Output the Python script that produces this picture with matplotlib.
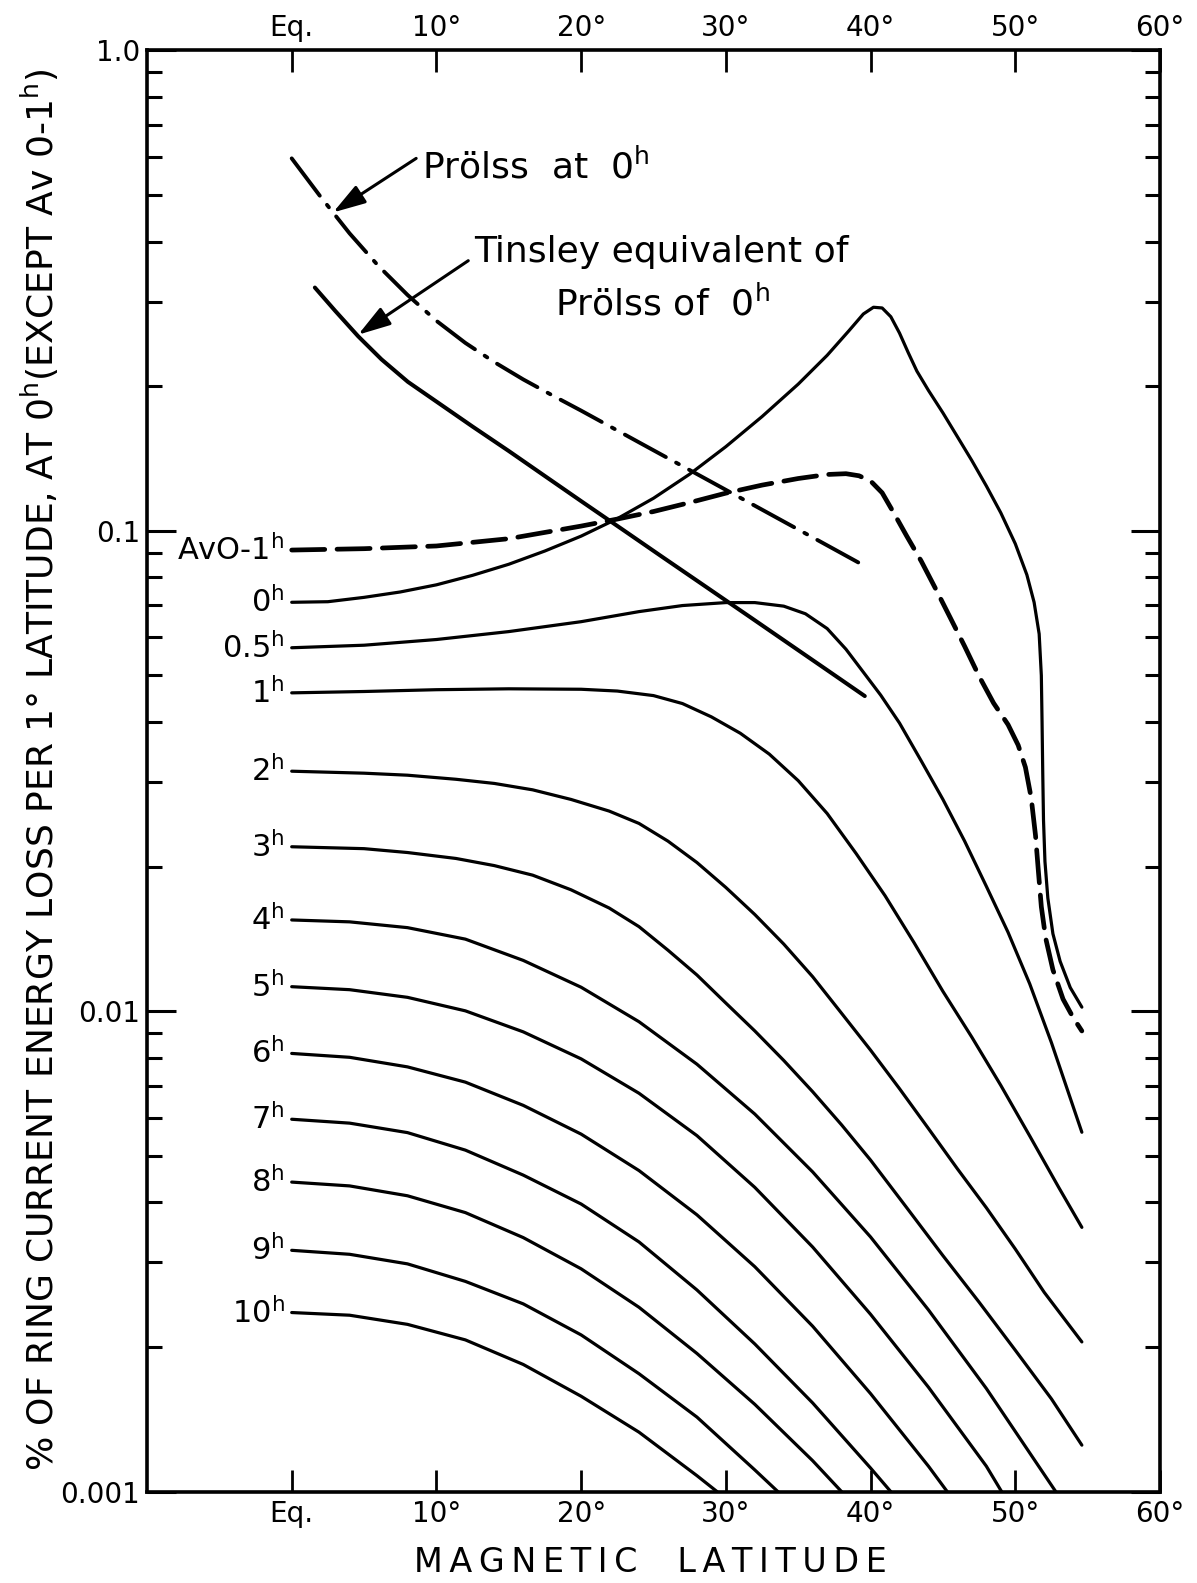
import matplotlib
matplotlib.use('Agg')
import matplotlib.pyplot as plt

plt.rcParams['font.family'] = ['DejaVu Sans']
plt.rcParams['mathtext.default'] = 'regular'

# ---------------- data (magnetic latitude in degrees, % energy loss) ----------------
lat_0h = [0, 2.5, 5, 7.5, 10, 12.5, 15, 17.5, 20, 22.5, 25, 27.5, 30, 32.5, 35, 37, 38.5, 39.5, 40.2,
          40.8, 41.4, 42.0, 42.6, 43.2, 44.0, 45.0, 46.0, 47.0, 48.0, 49.0, 50.0, 50.8, 51.3, 51.65,
          51.8, 51.85, 51.9, 51.95, 52.05, 52.25, 52.6, 53.1, 53.8, 54.6]
val_0h = [0.071, 0.0712, 0.0727, 0.0746, 0.0772, 0.0808, 0.0852, 0.0908, 0.0975, 0.1060, 0.1169, 0.1312,
          0.1497, 0.1729, 0.2020, 0.2319, 0.2608, 0.2827, 0.292, 0.291, 0.279, 0.258, 0.235, 0.215, 0.196,
          0.176, 0.157, 0.140, 0.124, 0.109, 0.094, 0.081, 0.071, 0.061, 0.050, 0.040, 0.031, 0.025,
          0.0205, 0.0172, 0.0145, 0.0127, 0.0112, 0.0102]

lat_av = [0, 5, 10, 15, 20, 22.5, 25, 27.5, 30, 32.5, 35, 37, 38.3, 39.2, 40.0, 40.8, 41.6, 42.5,
          43.5, 44.5, 45.5, 46.5, 47.5, 48.5, 49.5, 50.2, 50.7, 51.1, 51.4, 51.6, 51.8, 52.1, 52.6,
          53.3, 54.0, 54.6]
val_av = [0.0912, 0.0918, 0.093, 0.0963, 0.1023, 0.1058, 0.1097, 0.1145, 0.1198, 0.1245, 0.1285,
          0.131, 0.1315, 0.1302, 0.127, 0.120, 0.109, 0.0975, 0.0865, 0.0757, 0.066, 0.0575, 0.0498,
          0.0438, 0.0395, 0.0358, 0.0322, 0.0278, 0.0232, 0.0195, 0.0165, 0.0142, 0.0122, 0.0106,
          0.0097, 0.0091]

lat_05h = [0, 5, 10, 15, 20, 24, 27, 30, 32, 34, 35.5, 37, 38.3, 39.5, 40.7, 42, 43.5, 45, 46.5, 48,
           49.5, 51, 52.5, 54.6]
val_05h = [0.0571, 0.0578, 0.0594, 0.0617, 0.0647, 0.0679, 0.0699, 0.0709, 0.0709, 0.0697, 0.0672,
           0.0626, 0.0567, 0.0508, 0.0455, 0.0398, 0.0332, 0.0276, 0.0226, 0.0182, 0.0146, 0.0114,
           0.0086, 0.0056]

lat_1h = [0, 5, 10, 15, 20, 22.5, 25, 27, 29, 31, 33, 35, 37, 39, 41, 43, 45, 47, 49, 51, 53, 54.6]
val_1h = [0.046, 0.0463, 0.0467, 0.0469, 0.0468, 0.0464, 0.0454, 0.0437, 0.041, 0.0379, 0.0343, 0.0302,
          0.0258, 0.0213, 0.0174, 0.0139, 0.011, 0.00883, 0.00701, 0.0055, 0.0043, 0.00355]

lat_2h = [0, 5, 8, 11.35, 14, 16.65, 19.3, 21.94, 24, 26, 28, 30, 32, 34, 36, 38, 40, 42, 44, 46, 48,
          50, 52, 54.6]
val_2h = [0.0316, 0.0313, 0.031, 0.0304, 0.0298, 0.0289, 0.0276, 0.0261, 0.0246, 0.0226, 0.0204,
          0.0181, 0.0159, 0.0138, 0.0118, 0.0099, 0.0083, 0.0069, 0.0057, 0.0047, 0.0039, 0.0032,
          0.0026, 0.00205]

lat_3h = [0, 5, 8, 11.35, 14, 16.65, 19.3, 21.94, 24, 26, 28, 30, 32, 34, 36, 38, 40, 42.5, 45, 47.5,
          50, 52.5, 54.6]
val_3h = [0.0220, 0.0218, 0.0214, 0.0208, 0.0201, 0.0192, 0.0179, 0.0164, 0.0150, 0.0134, 0.0119,
          0.0104, 0.0091, 0.0079, 0.0068, 0.0058, 0.0049, 0.0039, 0.0031, 0.00248, 0.00197, 0.00156,
          0.00125]

lat_4h = [0, 4, 8, 12, 16, 20, 24, 28, 32, 36, 40, 44, 48, 52.8]
val_4h = [0.01549, 0.01535, 0.01493, 0.01413, 0.01276, 0.01122, 0.00951, 0.00776, 0.00611, 0.00463,
          0.00339, 0.00239, 0.00164, 0.001]

lat_5h = [0, 4, 8, 12, 16, 20, 24, 28, 32, 36, 40, 44, 48, 49.06]
val_5h = [0.01125, 0.01109, 0.01069, 0.01002, 0.00906, 0.00796, 0.00675, 0.00551, 0.00430, 0.00323,
          0.00234, 0.00165, 0.00113, 0.001]

lat_6h = [0, 4, 8, 12, 16, 20, 24, 28, 32, 36, 40, 44, 45.3]
val_6h = [0.00817, 0.00802, 0.00766, 0.00712, 0.00637, 0.00555, 0.00466, 0.00377, 0.00294, 0.00221,
          0.00160, 0.00113, 0.001]

lat_7h = [0, 4, 8, 12, 16, 20, 24, 28, 32, 36, 40, 41.4]
val_7h = [0.00596, 0.00585, 0.00559, 0.00514, 0.00456, 0.00397, 0.00331, 0.00263, 0.00203, 0.00153,
          0.00112, 0.001]

lat_8h = [0, 4, 8, 12, 16, 20, 24, 28, 32, 36, 38.0]
val_8h = [0.00441, 0.00433, 0.00413, 0.00381, 0.00338, 0.00291, 0.00242, 0.00194, 0.00152, 0.00116, 0.001]

lat_9h = [0, 4, 8, 12, 16, 20, 24, 28, 32, 33.6]
val_9h = [0.00318, 0.00312, 0.00298, 0.00274, 0.00246, 0.00212, 0.00176, 0.00143, 0.00111, 0.001]

lat_10h = [0, 4, 8, 12, 16, 20, 24, 28, 29.4]
val_10h = [0.00236, 0.00233, 0.00223, 0.00207, 0.00184, 0.00158, 0.00133, 0.00108, 0.001]

lat_prolss = [0, 2, 4, 6, 8, 10, 12, 14, 16, 18, 20, 24, 28, 32, 36, 39.5]
val_prolss = [0.596, 0.4956, 0.4160, 0.3557, 0.3098, 0.2736, 0.2461, 0.2245, 0.2066, 0.1915, 0.1779,
              0.1528, 0.1313, 0.1128, 0.0969, 0.0848]

lat_tinsley = [1.6, 3.0, 4.59, 6.2, 8.03, 10, 12.5, 15, 17.5, 20, 22.95, 25.5, 28.7, 31.5, 34.5, 37, 39.6]
val_tinsley = [0.3209, 0.2871, 0.2541, 0.2275, 0.2042, 0.1858, 0.1648, 0.1466, 0.1300, 0.1153, 0.1002,
               0.0887, 0.0762, 0.0667, 0.0578, 0.0513, 0.0453]

curve_labels = ['AvO-1', '0', '0.5', '1', '2', '3', '4', '5', '6', '7', '8', '9', '10']

x_ticks = [0, 10, 20, 30, 40, 50, 60]
x_ticklabels = ['Eq.', '10°', '20°', '30°', '40°', '50°', '60°']
y_ticks = [0.001, 0.01, 0.1, 1.0]
y_ticklabels = ['0.001', '0.01', '0.1', '1.0']

# ---------------- figure ----------------
W, H = 1197, 1583
fig = plt.figure(figsize=(W / 100, H / 100), dpi=100)
ax = fig.add_axes([147 / W, 1 - 1491.7 / H, (1160 - 147) / W, (1491.7 - 50.4) / H])
ax.set_yscale('log')
ax.set_xlim(-10, 60)
ax.set_ylim(0.001, 1.0)

k = 'black'
lw = 2.3
family = [(lat_0h, val_0h), (lat_05h, val_05h), (lat_1h, val_1h), (lat_2h, val_2h), (lat_3h, val_3h),
          (lat_4h, val_4h), (lat_5h, val_5h), (lat_6h, val_6h), (lat_7h, val_7h), (lat_8h, val_8h),
          (lat_9h, val_9h), (lat_10h, val_10h)]
for la, va in family:
    ax.plot(la, va, color=k, lw=lw, solid_capstyle='round', solid_joinstyle='round')

ax.plot(lat_av, val_av, color=k, lw=3.4, dashes=(7, 2.6), dash_capstyle='round')
ax.plot(lat_prolss, val_prolss, color=k, lw=2.8, dashes=(12, 3, 0.8, 3), dash_capstyle='round')
ax.plot(lat_tinsley, val_tinsley, color=k, lw=2.9, solid_capstyle='round', solid_joinstyle='round')

# curve labels at the left end
start_vals = [val_av[0], val_0h[0], val_05h[0], val_1h[0], val_2h[0], val_3h[0], val_4h[0],
              val_5h[0], val_6h[0], val_7h[0], val_8h[0], val_9h[0], val_10h[0]]
for lab, v in zip(curve_labels, start_vals):
    ax.text(-0.5, v, lab + r'$\mathregular{^{h}}$', ha='right', va='center', fontsize=22, color=k)

# annotations
arrow = dict(arrowstyle='-|>,head_length=0.9,head_width=0.28', lw=2.2, color=k,
             shrinkA=0, shrinkB=0, mutation_scale=22)
ax.annotate('', xy=(2.86, 0.46), xytext=(8.6, 0.596), arrowprops=arrow)
ax.text(9.0, 0.573, 'Prölss  at  0' + r'$\mathregular{^{h}}$', ha='left', va='center', fontsize=26)
ax.annotate('', xy=(4.59, 0.256), xytext=(12.2, 0.365), arrowprops=arrow)
ax.text(12.6, 0.38, 'Tinsley equivalent of', ha='left', va='center', fontsize=26)
ax.text(18.2, 0.297, 'Prölss of  0' + r'$\mathregular{^{h}}$', ha='left', va='center', fontsize=26)

# axes styling
for s in ax.spines.values():
    s.set_linewidth(2.6)
ax.set_xticks(x_ticks)
ax.set_xticklabels(x_ticklabels)
ax.set_yticks(y_ticks)
ax.set_yticklabels(y_ticklabels)
ax.tick_params(axis='x', which='major', direction='in', length=16, width=2.0, top=True, bottom=True,
               labeltop=True, labelbottom=True, labelsize=20, pad=6)
ax.tick_params(axis='y', which='major', direction='in', length=21, width=2.2, left=True, right=True,
               labelleft=True, labelright=False, labelsize=20, pad=5)
ax.tick_params(axis='y', which='minor', direction='in', length=11, width=2.2, left=True, right=True)
ax.tick_params(axis='x', which='minor', bottom=False, top=False)

fig.text(650 / W, 1 - 1562 / H,
         'M\u2009A\u2009G\u2009N\u2009E\u2009T\u2009I\u2009C\u2003\u2009L\u2009A\u2009T\u2009I\u2009T\u2009U\u2009D\u2009E',
         ha='center', va='center', fontsize=24)
fig.text(40 / W, 1 - 770 / H,
         '% OF RING CURRENT ENERGY LOSS PER 1° LATITUDE, AT 0' + r'$\mathregular{^{h}}$'
         + '(EXCEPT Av 0-1' + r'$\mathregular{^{h}}$' + ')',
         rotation=90, ha='center', va='center', fontsize=26)

fig.savefig('out.png', dpi=100)
